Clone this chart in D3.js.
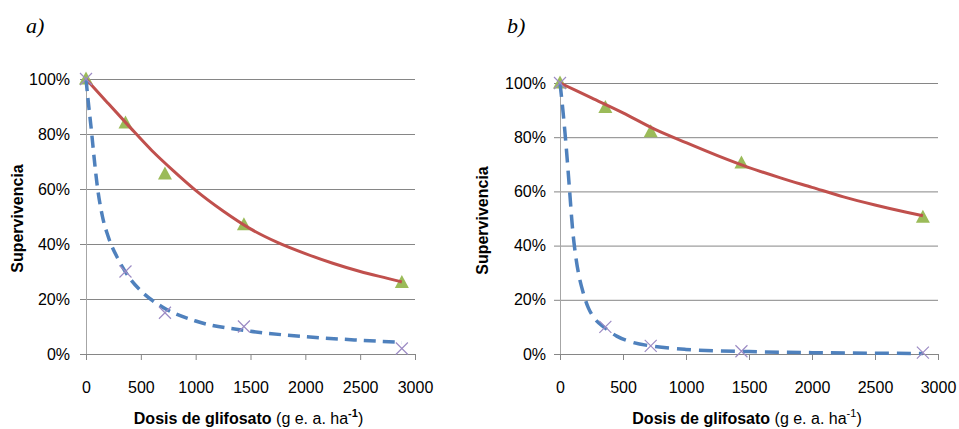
<!DOCTYPE html>
<html>
<head>
<meta charset="utf-8">
<script src="https://cdn.jsdelivr.net/npm/d3@7"></script>
<style>
	body { margin: 0; background: #fff; }
	text { font-family: "Liberation Sans", Arial, sans-serif; fill: #000; }
</style>
</head>
<body>
<svg id="chart" width="959" height="429"></svg>
<script>
var doses = [0, 360, 720, 1440, 2880];
var x_ticks = [0, 500, 1000, 1500, 2000, 2500, 3000];
var y_ticks = [0, 0.2, 0.4, 0.6, 0.8, 1.0];

// panel a) observed
var a_triangles = [1.00, 0.84, 0.655, 0.47, 0.26];
var a_crosses = [1.00, 0.30, 0.15, 0.10, 0.02];
// panel a) fitted curves
var a_red_dose = [0, 200, 400, 600, 800, 1000, 1250, 1500, 1750, 2000, 2250, 2500, 2750, 2880];
var a_red = [1.00, 0.912, 0.825, 0.74, 0.665, 0.595, 0.52, 0.455, 0.405, 0.365, 0.33, 0.30, 0.275, 0.262];
var a_blue_dose = [0, 20, 50, 75, 100, 150, 200, 300, 400, 500, 700, 1000, 1500, 2000, 2500, 2880];
var a_blue = [1.00, 0.92, 0.81, 0.71, 0.62, 0.50, 0.43, 0.34, 0.275, 0.23, 0.17, 0.12, 0.083, 0.063, 0.05, 0.042];

// panel b) observed
var b_triangles = [1.00, 0.91, 0.82, 0.705, 0.505];
var b_crosses = [1.00, 0.10, 0.03, 0.01, 0.005];
// panel b) fitted curves
var b_red_dose = [0, 250, 500, 750, 1000, 1250, 1500, 1750, 2000, 2250, 2500, 2750, 2880];
var b_red = [1.00, 0.945, 0.89, 0.83, 0.78, 0.732, 0.688, 0.65, 0.615, 0.58, 0.55, 0.523, 0.51];
var b_blue_dose = [0, 25, 50, 75, 100, 125, 150, 185, 225, 265, 360, 450, 560, 750, 1000, 1500, 2000, 2500, 2880];
var b_blue = [1.00, 0.89, 0.76, 0.61, 0.46, 0.36, 0.29, 0.225, 0.17, 0.137, 0.095, 0.066, 0.045, 0.028, 0.017, 0.009, 0.005, 0.003, 0.002];

var svg = d3.select("#chart");

var panels = [
	{label: "a)", lx: 26, left: 86, right: 415, top: 79, bottom: 354, ytitle: 17, labelEnd: 70,
		tri: a_triangles, cross: a_crosses, red_x: a_red_dose, red: a_red, blue_x: a_blue_dose, blue: a_blue,
		dash: "12,7", supBold: true},
	{label: "b)", lx: 507, left: 560, right: 938, top: 83, bottom: 354, ytitle: 482, labelEnd: 546,
		tri: b_triangles, cross: b_crosses, red_x: b_red_dose, red: b_red, blue_x: b_blue_dose, blue: b_blue,
		dash: "14,8", supBold: false}
];

panels.forEach(draw_panel);

function draw_panel(p) {
	var x = d3.scaleLinear().domain([0, 3000]).range([p.left, p.right]);
	var y = d3.scaleLinear().domain([0, 1]).range([p.bottom, p.top]);
	var g = svg.append("g");

	g.append("text")
		.attr("x", p.lx).attr("y", 33)
		.style("font-family", "'Liberation Serif', 'Times New Roman', serif")
		.style("font-style", "italic")
		.style("font-size", "22px")
		.text(p.label);

	// gridlines
	g.append("g")
		.attr("transform", "translate(" + p.left + ",0)")
		.call(d3.axisLeft(y).tickValues(y_ticks.slice(1)).tickSize(-(p.right - p.left)).tickFormat(""))
		.call(function(s) {
			s.select(".domain").remove();
			s.selectAll("line").attr("stroke", "#868686");
		});

	// y axis
	var ya = g.append("g")
		.attr("transform", "translate(" + p.left + ",0)")
		.call(d3.axisLeft(y).tickValues(y_ticks).tickSize(6).tickSizeOuter(0)
			.tickPadding(p.left - p.labelEnd - 6).tickFormat(d3.format(".0%")));
	ya.select(".domain").attr("stroke", "#a6a6a6");
	ya.selectAll("line").attr("stroke", "#868686");
	ya.selectAll("text").style("font-size", "16px").style("font-family", "'Liberation Sans', Arial, sans-serif");

	// x axis
	var xa = g.append("g")
		.attr("transform", "translate(0," + p.bottom + ")")
		.call(d3.axisBottom(x).tickValues(x_ticks).tickSize(6).tickSizeOuter(0)
			.tickPadding(22).tickFormat(d3.format("d")));
	xa.select(".domain").attr("stroke", "#868686");
	xa.selectAll("line").attr("stroke", "#868686");
	xa.selectAll("text").style("font-size", "16px").style("font-family", "'Liberation Sans', Arial, sans-serif");

	g.append("text")
		.attr("transform", "translate(" + p.ytitle + "," + ((p.top + p.bottom) / 2 + 2) + ") rotate(-90)")
		.attr("text-anchor", "middle")
		.attr("dy", "0.35em")
		.style("font-size", "16px")
		.style("font-weight", "bold")
		.text("Supervivencia");

	var t = g.append("text")
		.attr("x", (p.left + p.right) / 2 - 2)
		.attr("y", 424)
		.attr("text-anchor", "middle")
		.style("font-size", "16px");
	t.append("tspan").style("font-weight", "bold").text("Dosis de glifosato ");
	t.append("tspan").text("(g e. a. ha");
	t.append("tspan").attr("dy", -7).style("font-size", "11px")
		.style("font-weight", p.supBold ? "bold" : "normal").text("-1");
	t.append("tspan").attr("dy", 7).text(")");

	// observed markers
	var crosses = doses.map(function(d, i) { return [d, p.cross[i]]; });
	var tris = doses.map(function(d, i) { return [d, p.tri[i]]; });

	g.selectAll(".tri").data(tris).enter().append("path")
		.attr("class", "tri")
		.attr("d", "M0,-7.5L7,5.5L-7,5.5Z")
		.attr("transform", function(d) { return "translate(" + x(d[0]) + "," + y(d[1]) + ")"; })
		.attr("fill", "#9bbb59");

	// fitted curves
	var line = d3.line()
		.x(function(d) { return x(d[0]); })
		.y(function(d) { return y(d[1]); })
		.curve(d3.curveMonotoneX);

	g.append("path")
		.datum(p.red_x.map(function(d, i) { return [d, p.red[i]]; }))
		.attr("d", line)
		.attr("fill", "none")
		.attr("stroke", "#c0504d")
		.attr("stroke-width", 3);

	g.append("path")
		.datum(p.blue_x.map(function(d, i) { return [d, p.blue[i]]; }))
		.attr("d", line)
		.attr("fill", "none")
		.attr("stroke", "#4f81bd")
		.attr("stroke-width", 3.5)
		.attr("stroke-dasharray", p.dash);

	g.selectAll(".cross").data(crosses).enter().append("path")
		.attr("class", "cross")
		.attr("d", "M-6,-6L6,6M-6,6L6,-6")
		.attr("transform", function(d) { return "translate(" + x(d[0]) + "," + y(d[1]) + ")"; })
		.attr("stroke", "#9c8bc4")
		.attr("stroke-width", 1.2)
		.attr("fill", "none");
}
</script>
</body>
</html>
